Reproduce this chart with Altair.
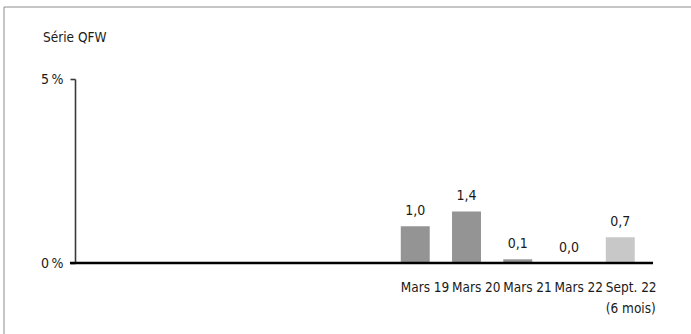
import altair as alt
import pandas as pd

# Series values (percent)
periods = ["Mars 19", "Mars 20", "Mars 21", "Mars 22", "Sept. 22\n(6 mois)"]
values = [1.0, 1.4, 0.1, 0.0, 0.7]
bar_colors = ["#949494", "#949494", "#949494", "#949494", "#c8c8c8"]
y_ticks = [0, 5]

# Six empty leading slots on the category axis (blank labels)
empty_slots = [" " * (i + 1) for i in range(6)]
x_domain = empty_slots + periods

FONT = "DejaVu Sans Condensed, Liberation Sans Narrow, Arial Narrow, sans-serif"
TEXT = "#1a1a1a"
W, H = 578, 184

df = pd.DataFrame({"period": periods, "value": values, "color": bar_colors})

x_enc = alt.X(
    "period:N",
    sort=x_domain,
    scale=alt.Scale(domain=x_domain, paddingInner=0.435, paddingOuter=0.356),
    axis=alt.Axis(
        title=None,
        domain=False,
        ticks=False,
        tickSize=0,
        labelAngle=0,
        labelAlign="left",
        labelOffset=-14.5,
        labelPadding=17,
        labelLineHeight=21,
        labelOverlap=False,
        labelBound=False,
        labelExpr="split(datum.label, '\\n')",
        labelFont=FONT,
        labelFontSize=13.5,
        labelColor=TEXT,
    ),
)
y_enc = alt.Y(
    "value:Q",
    scale=alt.Scale(domain=[0, 5], nice=False, zero=True),
    axis=alt.Axis(
        title=None,
        values=y_ticks,
        grid=False,
        domainColor="#3a3a3a",
        domainWidth=1.6,
        tickColor="#3a3a3a",
        tickWidth=1.6,
        tickSize=5,
        labelPadding=7,
        labelExpr="datum.value + '\u2009%'",
        labelFont=FONT,
        labelFontSize=14,
        labelColor=TEXT,
    ),
)

base = alt.Chart(df)

bars = base.mark_bar().encode(
    x=x_enc,
    y=y_enc,
    color=alt.Color("color:N", scale=None, legend=None),
)

labels = base.mark_text(
    dy=-11, baseline="alphabetic", align="center", font=FONT, fontSize=14, color=TEXT
).transform_calculate(
    txt="replace(format(datum.value, '.1f'), '.', ',')"
).encode(
    x=alt.X("period:N", sort=x_domain),
    y=alt.Y("value:Q"),
    text="txt:N",
)

# Thick zero baseline
baseline = alt.Chart(pd.DataFrame({"z": [0]})).mark_rule(
    color="#000000", strokeWidth=2.7
).encode(y=alt.Y("z:Q"), x=alt.value(-5), x2=alt.value(W))

title = alt.Chart(pd.DataFrame({"t": ["Série QFW"]})).mark_text(
    align="left", baseline="alphabetic", font=FONT, fontSize=13.5, color=TEXT
).encode(text="t:N", x=alt.value(-32), y=alt.value(-37))

# Frame lines (top and left)
frame_top = alt.Chart(pd.DataFrame({"f": [0]})).mark_rule(
    color="#8c8c8c", strokeWidth=1
).encode(x=alt.value(-71), x2=alt.value(640), y=alt.value(-72))
frame_left = alt.Chart(pd.DataFrame({"f": [0]})).mark_rule(
    color="#8c8c8c", strokeWidth=1
).encode(x=alt.value(-71), y=alt.value(-72), y2=alt.value(280))

chart = (
    alt.layer(bars, labels, baseline, title, frame_top, frame_left)
    .resolve_scale(color="independent")
    .properties(
        width=W,
        height=H,
        padding={"left": 75, "top": 79, "right": 38, "bottom": 71},
        autosize=alt.AutoSizeParams(type="none"),
        background="white",
    )
    .configure_view(stroke=None)
)

chart.save("out.html", embed_options={"renderer": "svg", "actions": False})
